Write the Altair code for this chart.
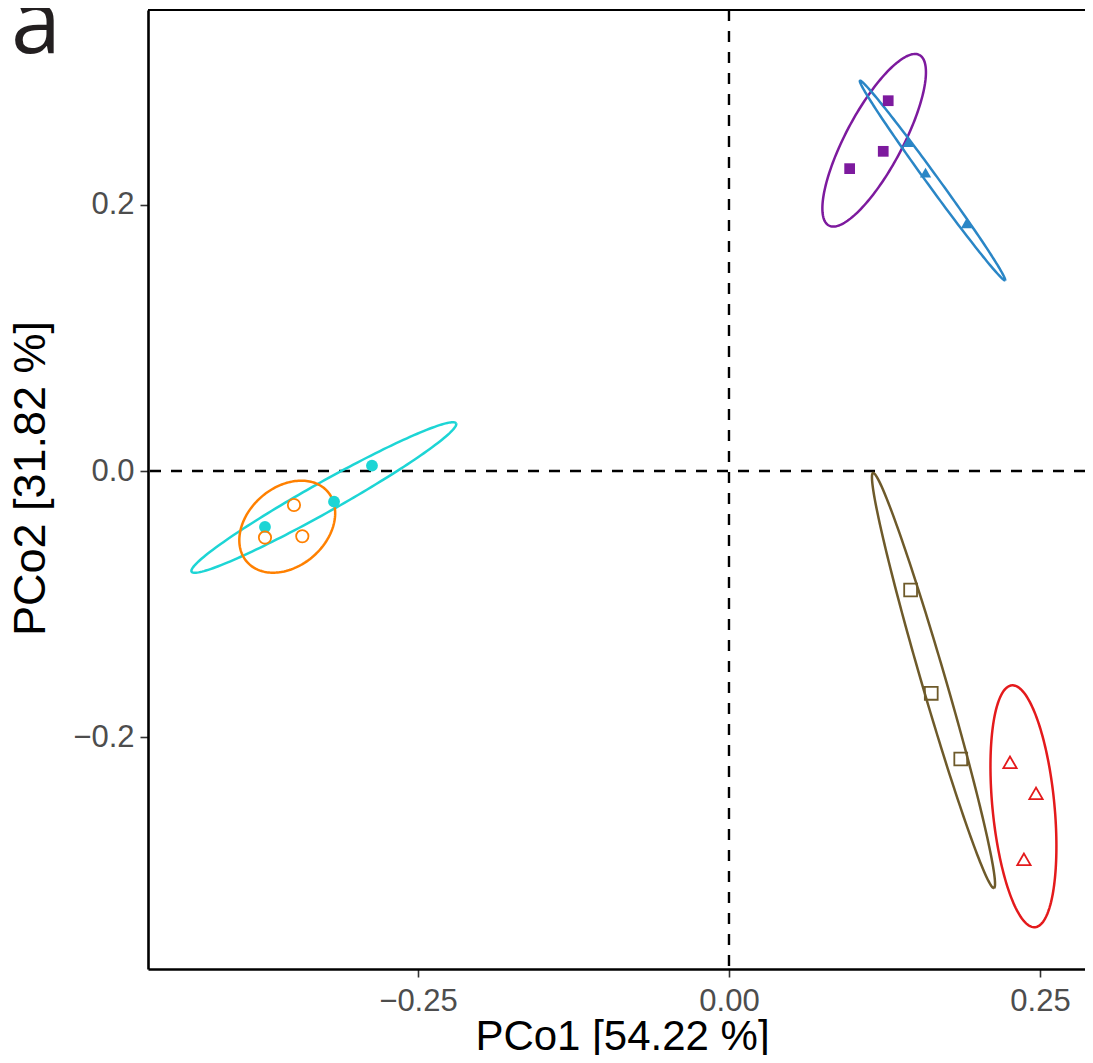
import numpy as np
import pandas as pd
import altair as alt

# ---------------- data ----------------
groups = ["G1", "G2", "G3", "G4", "G5", "G6"]
colors = ["#7D1A9E", "#2A86C6", "#1DD5D5", "#FF8000", "#6E5A2A", "#E41A1C"]
shapes = ["square", "triangle-up", "circle", "circle", "square", "triangle-up"]
sizes = [115, 177, 100, 85, 100, 170]
filled = [True, True, True, False, False, False]

pc1 = {
    "G1": [0.128, 0.124, 0.097],
    "G2": [0.144, 0.158, 0.191],
    "G3": [-0.287, -0.3175, -0.373],
    "G4": [-0.3497, -0.373, -0.343],
    "G5": [0.146, 0.1626, 0.1863],
    "G6": [0.2259, 0.2468, 0.2371],
}
pc2 = {
    "G1": [0.278, 0.240, 0.227],
    "G2": [0.247, 0.224, 0.186],
    "G3": [0.004, -0.023, -0.042],
    "G4": [-0.0255, -0.050, -0.049],
    "G5": [-0.0893, -0.1669, -0.2162],
    "G6": [-0.2187, -0.2420, -0.2915],
}

# confidence ellipses: centre, two conjugate semi-diameters
ell_center = {
    "G1": (0.1167, 0.2483), "G2": (0.1636, 0.2181), "G3": (-0.3257, -0.0199),
    "G4": (-0.3551, -0.0418), "G5": (0.1644, -0.1573), "G6": (0.2367, -0.2517),
}
ell_u = {
    "G1": (0.0364, 0.0640), "G2": (0.0583, -0.0749), "G3": (0.1063, 0.0557),
    "G4": (0.0325, 0.0263), "G5": (0.0486, -0.1558), "G6": (-0.00935, 0.0908),
}
ell_v = {
    "G1": (0.0202, -0.0100), "G2": (0.00371, 0.00252), "G3": (0.00582, -0.00969),
    "G4": (0.0207, -0.0224), "G5": (0.00926, 0.00252), "G6": (0.0248, 0.00223),
}

panel_label = ["a"]
x_domain = [-0.46704, 0.28619]
y_domain = [-0.37387, 0.34610]
x_ticks = [-0.25, 0.0, 0.25]
y_ticks = [-0.2, 0.0, 0.2]

# ---------------- tables ----------------
pts = pd.DataFrame(
    [
        {"group": g, "PCo1": x, "PCo2": y, "filled": filled[i]}
        for i, g in enumerate(groups)
        for x, y in zip(pc1[g], pc2[g])
    ]
)

rows = []
tt = np.linspace(0, 2 * np.pi, 181)
for g in groups:
    cx, cy = ell_center[g]
    ux, uy = ell_u[g]
    vx, vy = ell_v[g]
    for k, t in enumerate(tt):
        rows.append({
            "group": g, "k": k,
            "PCo1": cx + ux * np.cos(t) + vx * np.sin(t),
            "PCo2": cy + uy * np.cos(t) + vy * np.sin(t),
        })
ell = pd.DataFrame(rows)
lab = pd.DataFrame({"label": panel_label})

FONT = "Liberation Sans"

xscale = alt.Scale(domain=x_domain, nice=False, zero=False)
yscale = alt.Scale(domain=y_domain, nice=False, zero=False)

xaxis = alt.Axis(
    values=x_ticks, format=".2f", grid=False, title="PCo1 [54.22 %]",
    labelFont=FONT, labelFontSize=31, labelColor="#4D4D4D", labelPadding=9,
    tickColor="#333333", tickSize=8, tickWidth=1.6,
    domainColor="black", domainWidth=2.6,
    titleFont=FONT, titleFontSize=42, titleFontWeight="normal", titleColor="black",
    titleBaseline="alphabetic", titleY=80, titleX=474,
)
yaxis = alt.Axis(
    values=y_ticks, format=".1f", grid=False, title="PCo2 [31.82 %]",
    labelFont=FONT, labelFontSize=31, labelColor="#4D4D4D", labelPadding=6,
    tickColor="#333333", tickSize=8, tickWidth=1.6,
    domainColor="black", domainWidth=2.6,
    titleFont=FONT, titleFontSize=45, titleFontWeight="normal", titleColor="black",
    titleAngle=270, titleBaseline="alphabetic", titleX=-104, titleY=468,
)

color = alt.Color("group:N", scale=alt.Scale(domain=groups, range=colors), legend=None)
shape = alt.Shape("group:N", scale=alt.Scale(domain=groups, range=shapes), legend=None)
size = alt.Size("group:N", scale=alt.Scale(domain=groups, range=sizes), legend=None)

base_x = alt.X("PCo1:Q", scale=xscale, axis=xaxis)
base_y = alt.Y("PCo2:Q", scale=yscale, axis=yaxis)

vline = alt.Chart(lab).mark_rule(color="black", strokeWidth=2.4, strokeDash=[11, 10]).encode(
    x=alt.datum(0, scale=xscale)
)
hline = alt.Chart(lab).mark_rule(color="black", strokeWidth=2.4, strokeDash=[11, 10]).encode(
    y=alt.datum(0, scale=yscale)
)
topline = alt.Chart(lab).mark_rule(color="black", strokeWidth=2.2).encode(
    y=alt.datum(y_domain[1])
)

ellipses = alt.Chart(ell).mark_line(strokeWidth=2.5).encode(
    x=base_x, y=base_y, color=color, detail="group:N", order="k:Q"
)

filled_pts = alt.Chart(pts).transform_filter("datum.filled").mark_point(
    filled=True, opacity=1
).encode(x=base_x, y=base_y, color=color, shape=shape, size=size)

open_pts = alt.Chart(pts).transform_filter("!datum.filled").mark_point(
    filled=False, opacity=1, strokeWidth=1.8
).encode(x=base_x, y=base_y, color=color, shape=shape, size=size)

letter = alt.Chart(lab).mark_text(
    fontSize=90, font="Open Sans", fontWeight=500, align="left",
    baseline="alphabetic", color="#231F20"
).encode(text="label:N", x=alt.value(-137), y=alt.value(43))

chart = (
    alt.layer(vline, hline, topline, ellipses, filled_pts, open_pts, letter)
    .properties(
        width=937,
        height=959,
        autosize=alt.AutoSizeParams(type="none"),
        padding={"left": 140, "top": 2, "right": 0, "bottom": 86},
    )
    .configure_view(stroke=None)
)

chart.save("out.html", embed_options={"renderer": "svg", "actions": False})
